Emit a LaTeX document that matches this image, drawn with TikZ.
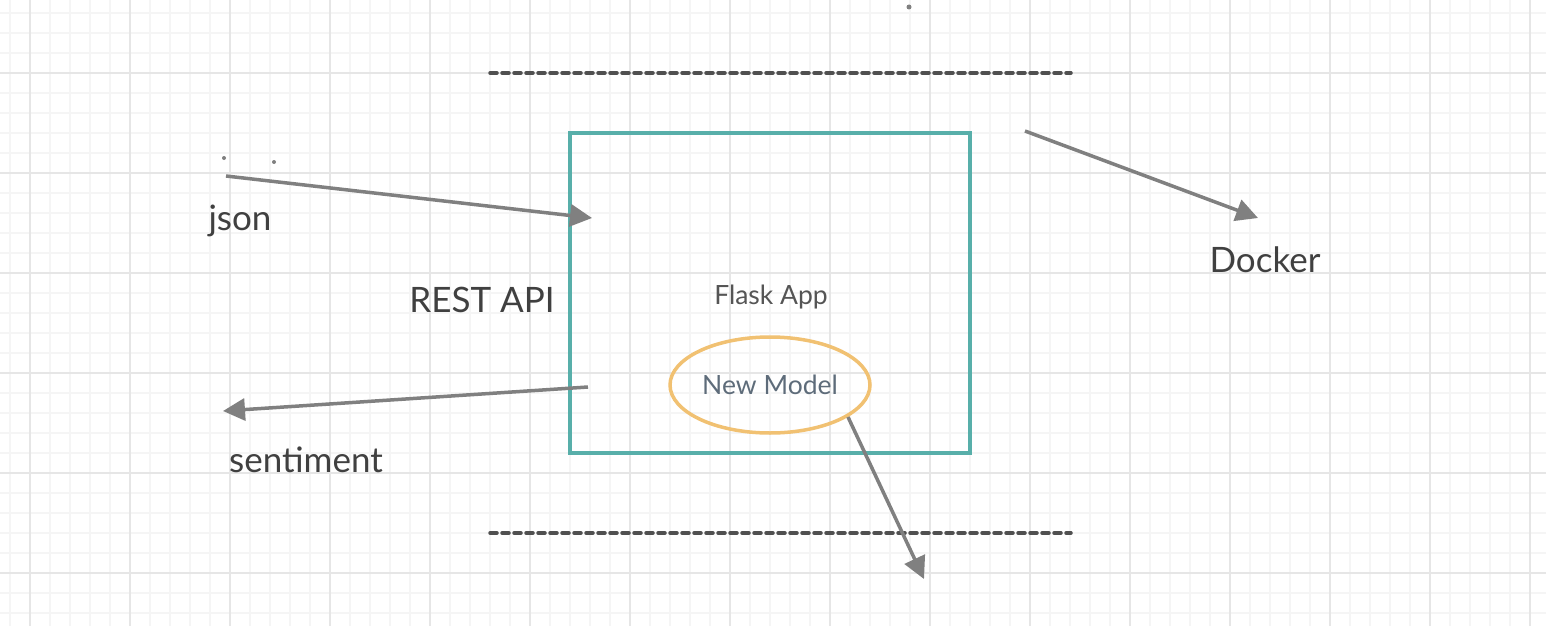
\documentclass[tikz,border=0pt]{standalone}
\usepackage{fontspec}
\setmainfont{Lato}
\usetikzlibrary{arrows.meta,shapes.geometric}
\definecolor{gridminor}{HTML}{F5F5F5}
\definecolor{gridmajor}{HTML}{E6E6E6}
\definecolor{boxteal}{HTML}{58AFAA}
\definecolor{ellorange}{HTML}{F1C172}
\definecolor{arrowgray}{HTML}{808080}
\definecolor{dashgray}{HTML}{505050}
\definecolor{labeltext}{HTML}{404040}
\definecolor{flasktext}{HTML}{555555}
\definecolor{modeltext}{HTML}{5E6C7A}
\tikzset{
  conn/.style={draw=arrowgray, line width=3.5pt, -{Triangle[length=22pt,width=22pt]}},
  dashline/.style={draw=dashgray, line width=3.5pt, line cap=round, dash pattern=on 7pt off 5pt},
  biglabel/.style={text=labeltext, font=\fontsize{35}{38}\selectfont, inner sep=0pt},
  dotmark/.style={fill=arrowgray, draw=none}
}
\begin{document}
\begin{tikzpicture}[x=1pt,y=-1pt]
\useasboundingbox (0,0) rectangle (1546,626);
\fill[white] (0,0) rectangle (1546,626);
% grid
\foreach \k in {0,...,77} {\pgfmathsetmacro\xx{10+20*\k}\draw[gridminor, line width=1.5pt] (\xx,0) -- (\xx,626);}
\foreach \k in {0,...,31} {\pgfmathsetmacro\yy{13+20*\k}\draw[gridminor, line width=1.5pt] (0,\yy) -- (1546,\yy);}
\foreach \k in {0,...,15} {\pgfmathsetmacro\xx{30+100*\k}\draw[gridmajor, line width=2pt] (\xx,0) -- (\xx,626);}
\foreach \k in {0,...,5} {\pgfmathsetmacro\yy{73+100*\k}\draw[gridmajor, line width=2pt] (0,\yy) -- (1546,\yy);}
% dashed lines
\coordinate (d1a) at (490,73); \coordinate (d1b) at (1071,73);
\coordinate (d2a) at (490,533); \coordinate (d2b) at (1071,533);
\draw[dashline] (d1a) -- (d1b);
\draw[dashline] (d2a) -- (d2b);
% small dots
\fill[dotmark] (224,158) circle (2pt);
\fill[dotmark] (274,162) circle (2pt);
\fill[dotmark] (909,7) circle (2.5pt);
% flask box
\node[draw=boxteal, line width=3.5pt, minimum width=400pt, minimum height=320pt, inner sep=0pt] (flask) at (770,293) {};
\node[text=flasktext, font=\fontsize{26.5}{30}\selectfont] (flasklbl) at (771,297) {Flask App};
\node[ellipse, draw=ellorange, line width=3.5pt, minimum width=200pt, minimum height=96pt, inner sep=0pt, text=modeltext, font=\fontsize{26.5}{30}\selectfont] (model) at (770,385) {New Model};
% labels
\node[biglabel] (rest) at (482,300) {REST API};
\node[biglabel] (json) at (240,221) {json};
\node[biglabel] (docker) at (1265,260) {Docker};
\node[biglabel] (sent) at (306,460) {sentiment};
% connectors
\coordinate (jsonstart) at (226,176);
\coordinate (jsonend) at (592,218);
\draw[conn] (jsonstart) -- (jsonend);
\coordinate (dockstart) at (1025,131);
\coordinate (dockend) at (1258,218);
\draw[conn] (dockstart) -- (dockend);
\coordinate (sentstart) at (588,387);
\coordinate (sentend) at (223,411);
\draw[conn] (sentstart) -- (sentend);
\coordinate (modstart) at (848,417);
\coordinate (modend) at (924,579);
\draw[conn] (modstart) -- (modend);
\end{tikzpicture}
\end{document}
